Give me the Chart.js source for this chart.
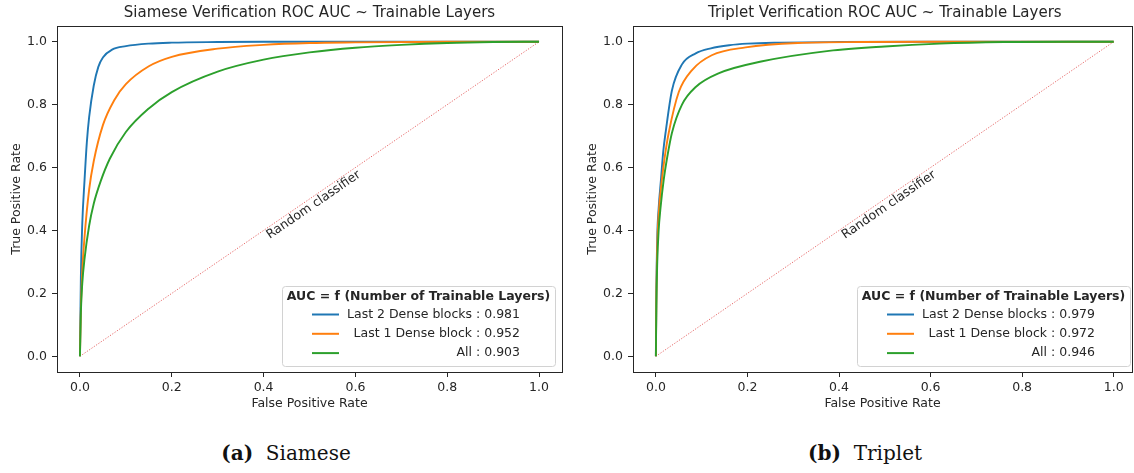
<!DOCTYPE html>
<html>
<head>
<meta charset="utf-8">
<script src="https://cdn.jsdelivr.net/npm/chart.js@4.4.1/dist/chart.umd.min.js"></script>
<style>
  html, body { margin: 0; padding: 0; background: #fff; width: 1134px; height: 473px; overflow: hidden; }
  #siamese { position: absolute; left: 0; top: 0; }
  #triplet { position: absolute; left: 576px; top: 0; }
  .cap { position: absolute; top: 441px; line-height: 24px; font-family: "DejaVu Serif", serif; font-size: 20px;
         color: #111; white-space: nowrap; transform: translateX(-50%); }
  .cap b { font-weight: bold; }
</style>
</head>
<body>
<canvas id="siamese" width="567" height="420"></canvas>
<canvas id="triplet" width="558" height="420"></canvas>
<div class="cap" style="left:286px"><b>(a)</b>&nbsp; Siamese</div>
<div class="cap" style="left:865px"><b>(b)</b>&nbsp; Triplet</div>

<script>
// Axis ticks shared by both panels
const tickValues = [0, 0.2, 0.4, 0.6, 0.8, 1.0];

// Series names and AUC scores
const seriesNames = ['Last 2 Dense blocks', 'Last 1 Dense block', 'All'];
const siameseAuc = [0.981, 0.952, 0.903];
const tripletAuc = [0.979, 0.972, 0.946];

// Chance diagonal
const diagonalFpr = [0, 1];
const diagonalTpr = [0, 1];

// Siamese ROC curves
const siameseLast2Fpr = [0, 0.002, 0.005, 0.01, 0.015, 0.02, 0.03, 0.04, 0.05, 0.07, 0.1, 0.15, 0.2, 0.3, 0.4, 0.6, 0.8, 1.0];
const siameseLast2Tpr = [0, 0.25, 0.42, 0.56, 0.68, 0.76, 0.86, 0.92, 0.95, 0.975, 0.986, 0.994, 0.997, 0.999, 1.0, 1.0, 1.0, 1.0];
const siameseLast1Fpr = [0, 0.002, 0.005, 0.01, 0.02, 0.03, 0.05, 0.075, 0.1, 0.15, 0.2, 0.3, 0.4, 0.5, 0.6, 0.8, 1.0];
const siameseLast1Tpr = [0, 0.15, 0.27, 0.38, 0.53, 0.62, 0.735, 0.815, 0.865, 0.922, 0.952, 0.978, 0.99, 0.996, 0.998, 1.0, 1.0];
const siameseAllFpr = [0, 0.002, 0.005, 0.01, 0.02, 0.03, 0.045, 0.065, 0.1, 0.15, 0.2, 0.3, 0.4, 0.5, 0.6, 0.7, 0.8, 0.9, 1.0];
const siameseAllTpr = [0, 0.14, 0.23, 0.31, 0.415, 0.485, 0.556, 0.628, 0.713, 0.788, 0.84, 0.905, 0.943, 0.966, 0.981, 0.99, 0.996, 0.999, 1.0];

// Triplet ROC curves
const tripletLast2Fpr = [0, 0.001, 0.003, 0.006, 0.011, 0.016, 0.022, 0.035, 0.057, 0.087, 0.12, 0.16, 0.2, 0.27, 0.4, 0.6, 0.8, 1.0];
const tripletLast2Tpr = [0, 0.2, 0.38, 0.47, 0.56, 0.65, 0.72, 0.845, 0.928, 0.963, 0.979, 0.989, 0.994, 0.997, 0.999, 1.0, 1.0, 1.0];
const tripletLast1Fpr = [0, 0.001, 0.003, 0.006, 0.013, 0.02, 0.028, 0.05, 0.079, 0.122, 0.196, 0.31, 0.45, 0.6, 0.8, 1.0];
const tripletLast1Tpr = [0, 0.18, 0.35, 0.45, 0.56, 0.64, 0.71, 0.84, 0.91, 0.957, 0.982, 0.996, 0.999, 1.0, 1.0, 1.0];
const tripletAllFpr = [0, 0.001, 0.003, 0.006, 0.01, 0.017, 0.025, 0.035, 0.057, 0.087, 0.138, 0.23, 0.378, 0.5, 0.62, 0.76, 0.9, 1.0];
const tripletAllTpr = [0, 0.16, 0.30, 0.40, 0.47, 0.56, 0.635, 0.71, 0.8, 0.856, 0.9, 0.937, 0.971, 0.985, 0.994, 0.999, 1.0, 1.0];

const palette = ['#1f77b4', '#ff7f0e', '#2ca02c'];
const INK = '#262626';
const FONT = '"DejaVu Sans", sans-serif';
const TEXT_SIZE = 12.5;

const toPoints = (xs, ys) => xs.map((x, i) => ({ x, y: ys[i] }));

// Axes box drawn on all four sides
const framePlugin = {
  id: 'frame',
  afterDatasetsDraw(chart) {
    const { ctx, chartArea: a } = chart;
    ctx.save();
    ctx.strokeStyle = INK;
    ctx.lineWidth = 1;
    ctx.strokeRect(Math.round(a.left) + 0.5, Math.round(a.top) + 0.5,
                   Math.round(a.right - a.left), Math.round(a.bottom - a.top));
    ctx.restore();
  }
};

// Panel title centred over the axes
const headingPlugin = {
  id: 'heading',
  afterDraw(chart, args, opts) {
    const { ctx } = chart;
    const x = chart.scales.x.getPixelForValue(0.5);
    ctx.save();
    ctx.font = '15px ' + FONT;
    ctx.fillStyle = INK;
    ctx.textAlign = 'center';
    ctx.textBaseline = 'middle';
    ctx.fillText(opts.text, x, 13);
    ctx.restore();
  }
};

// Rotated note along the chance diagonal
const diagonalNotePlugin = {
  id: 'diagonalNote',
  afterDatasetsDraw(chart, args, opts) {
    const { ctx, scales: { x, y } } = chart;
    const x0 = x.getPixelForValue(0), y0 = y.getPixelForValue(0);
    const x1 = x.getPixelForValue(1), y1 = y.getPixelForValue(1);
    const angle = Math.atan2(y1 - y0, x1 - x0);
    ctx.save();
    ctx.translate(x.getPixelForValue(0.5), y.getPixelForValue(0.5));
    ctx.rotate(angle);
    ctx.font = TEXT_SIZE + 'px ' + FONT;
    ctx.fillStyle = INK;
    ctx.textAlign = 'center';
    ctx.textBaseline = 'top';
    ctx.fillText(opts.text, 0, 1);
    ctx.restore();
  }
};

// Lower-right legend with a bold title and right-aligned entries
const rocLegendPlugin = {
  id: 'rocLegend',
  afterDraw(chart, args, opts) {
    const { ctx, chartArea: a } = chart;
    const w = 273, h = 80;
    const left = a.right - opts.inset - w;
    const top = a.bottom - 6 - h;
    ctx.save();
    ctx.beginPath();
    ctx.roundRect(left + 0.5, top + 0.5, w, h, 3);
    ctx.fillStyle = 'rgba(255,255,255,0.85)';
    ctx.fill();
    ctx.strokeStyle = '#d2d2d2';
    ctx.lineWidth = 1;
    ctx.stroke();

    ctx.fillStyle = INK;
    ctx.font = 'bold ' + TEXT_SIZE + 'px ' + FONT;
    ctx.textAlign = 'center';
    ctx.textBaseline = 'middle';
    ctx.fillText(opts.title, left + w / 2, top + 11);

    ctx.font = TEXT_SIZE + 'px ' + FONT;
    ctx.textAlign = 'right';
    const entries = chart.data.datasets.filter(d => d.inLegend);
    entries.forEach((d, i) => {
      const yy = top + 28.5 + i * 19.3;
      ctx.strokeStyle = d.borderColor;
      ctx.lineWidth = 2;
      ctx.beginPath();
      ctx.moveTo(left + 30, yy);
      ctx.lineTo(left + 57, yy);
      ctx.stroke();
      ctx.fillStyle = INK;
      ctx.fillText(d.label, left + 238, yy);
    });
    ctx.restore();
  }
};

function makePanel(canvasId, heading, curves, aucs, layout) {
  const datasets = [{
    label: 'Random classifier',
    data: toPoints(diagonalFpr, diagonalTpr),
    borderColor: 'rgba(220,45,45,0.8)',
    borderWidth: 0.9,
    borderDash: [1.2, 1.6],
    pointRadius: 0,
    fill: false,
    inLegend: false,
    order: 5
  }].concat(curves.map((c, i) => ({
    label: seriesNames[i] + ' : ' + aucs[i].toFixed(3),
    data: toPoints(c[0], c[1]),
    borderColor: palette[i],
    borderWidth: 1.9,
    pointRadius: 0,
    fill: false,
    cubicInterpolationMode: 'monotone',
    inLegend: true,
    order: 3 - i
  })));

  const tickFont = { family: FONT, size: TEXT_SIZE };
  return new Chart(document.getElementById(canvasId), {
    type: 'line',
    data: { datasets },
    plugins: [framePlugin, headingPlugin, diagonalNotePlugin, rocLegendPlugin],
    options: {
      responsive: false,
      animation: false,
      events: [],
      layout: { padding: { top: 26, right: layout.padRight, bottom: 0, left: 0 } },
      plugins: {
        legend: { display: false },
        tooltip: { enabled: false },
        heading: { text: heading },
        diagonalNote: { text: 'Random classifier' },
        rocLegend: { title: 'AUC = f (Number of Trainable Layers)', inset: layout.legendInset }
      },
      scales: {
        x: {
          type: 'linear',
          min: -0.05,
          max: layout.xMax,
          afterBuildTicks: s => { s.ticks = tickValues.map(v => ({ value: v })); },
          afterFit: s => { s.height = 48; },
          border: { display: false },
          grid: { drawOnChartArea: false, drawTicks: true, tickLength: 5, color: INK, lineWidth: 1 },
          ticks: { font: tickFont, color: INK, padding: 3, maxRotation: 0,
                   callback: v => Number(v).toFixed(1) },
          title: { display: true, text: 'False Positive Rate', font: tickFont, color: INK,
                   padding: { top: 0, bottom: 9 } }
        },
        y: {
          type: 'linear',
          min: -0.05,
          max: 1.05,
          afterBuildTicks: s => { s.ticks = tickValues.map(v => ({ value: v })); },
          afterFit: s => { s.width = 57; },
          border: { display: false },
          grid: { drawOnChartArea: false, drawTicks: true, tickLength: 5, color: INK, lineWidth: 1 },
          ticks: { font: tickFont, color: INK, padding: 5,
                   callback: v => Number(v).toFixed(1) },
          title: { display: true, text: 'True Positive Rate', font: tickFont, color: INK,
                   padding: { top: 9, bottom: 0 } }
        }
      }
    }
  });
}

makePanel('siamese', 'Siamese Verification ROC AUC ~ Trainable Layers',
  [[siameseLast2Fpr, siameseLast2Tpr], [siameseLast1Fpr, siameseLast1Tpr], [siameseAllFpr, siameseAllTpr]],
  siameseAuc, { xMax: 1.05, padRight: 5, legendInset: 7 });

makePanel('triplet', 'Triplet Verification ROC AUC ~ Trainable Layers',
  [[tripletLast2Fpr, tripletLast2Tpr], [tripletLast1Fpr, tripletLast1Tpr], [tripletAllFpr, tripletAllTpr]],
  tripletAuc, { xMax: 1.04, padRight: 2, legendInset: 2 });
</script>
</body>
</html>
